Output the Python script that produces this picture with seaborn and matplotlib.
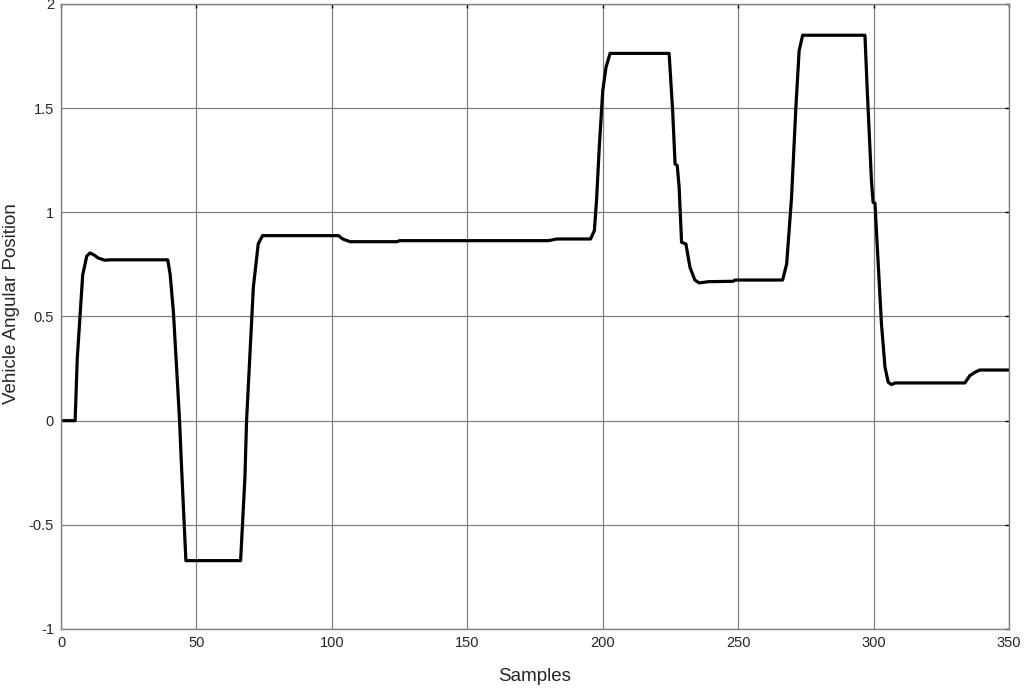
import numpy as np
import pandas as pd
import seaborn as sns
import matplotlib
matplotlib.use('Agg')
import matplotlib.pyplot as plt

# trace of vehicle angular position (knot points)
samples = [0, 5.2, 6.0, 8.0, 9.5, 10.7, 12.2, 13.8, 16.2, 18.1, 39.4, 40.3, 41.5, 43.7,
           44.5, 46.1, 66.3, 67.9, 68.5, 71.0, 72.8, 74.4, 102.4, 104.0, 106.7, 124.0,
           125.0, 180.0, 183.0, 195.5, 196.9, 197.7, 198.7, 200.0, 201.2, 202.7, 224.5,
           225.8, 226.7, 227.5, 228.2, 229.1, 230.7, 232.2, 234.0, 235.6, 238.9, 248.2,
           248.8, 266.4, 267.9, 269.7, 271.3, 272.5, 273.8, 296.8, 297.6, 299.2, 299.8,
           300.5, 301.7, 302.9, 304.2, 305.4, 306.6, 307.9, 333.7, 335.5, 337.4, 339.2, 350]
angle = [0, 0, 0.30, 0.70, 0.79, 0.805, 0.795, 0.78, 0.77, 0.772, 0.772, 0.70, 0.52, 0.016,
         -0.224, -0.672, -0.672, -0.27, 0.0, 0.64, 0.848, 0.888, 0.888, 0.872, 0.859, 0.859,
         0.864, 0.864, 0.872, 0.872, 0.912, 1.056, 1.31, 1.584, 1.696, 1.763, 1.763,
         1.488, 1.232, 1.224, 1.12, 0.856, 0.848, 0.736, 0.675, 0.661, 0.667, 0.669,
         0.675, 0.675, 0.752, 1.072, 1.504, 1.776, 1.85, 1.85, 1.60, 1.152, 1.048,
         1.044, 0.752, 0.464, 0.256, 0.184, 0.173, 0.181, 0.181, 0.216, 0.232, 0.243, 0.243]

x_ticks = [0, 50, 100, 150, 200, 250, 300, 350]
y_ticks = [-1, -0.5, 0, 0.5, 1, 1.5, 2]
y_ticklabels = ['-1', '-0.5', '0', '0.5', '1', '1.5', '2']

df = pd.DataFrame({'Samples': samples, 'Angle': angle})

sns.set_style('white')
plt.rcParams['font.family'] = ['Liberation Sans', 'DejaVu Sans']
plt.rcParams['axes.unicode_minus'] = False

fig = plt.figure(figsize=(10.24, 6.88), dpi=100)
ax = fig.add_axes([0.0596, 0.0858, 0.9258, 0.9084])

sns.lineplot(data=df, x='Samples', y='Angle', color='black', linewidth=2.3, ax=ax)

ax.set_xlim(0, 350)
ax.set_ylim(-1, 2)
ax.set_xticks(x_ticks)
ax.set_xticklabels([str(t) for t in x_ticks])
ax.set_yticks(y_ticks)
ax.set_yticklabels(y_ticklabels)
ax.grid(True, color='#808080', linewidth=0.9)
ax.set_axisbelow(True)
for s in ax.spines.values():
    s.set_color('#808080')
    s.set_linewidth(1.0)
ax.tick_params(direction='in', length=3, width=1, color='black',
               top=True, right=True, labelsize=10.5, pad=5)
ax.set_xlabel('Samples', fontsize=13.5, labelpad=13)
ax.set_ylabel('Vehicle Angular Position', fontsize=13.5)
ax.yaxis.set_label_coords(-0.043, 0.52)

fig.savefig('out.png', dpi=100)
